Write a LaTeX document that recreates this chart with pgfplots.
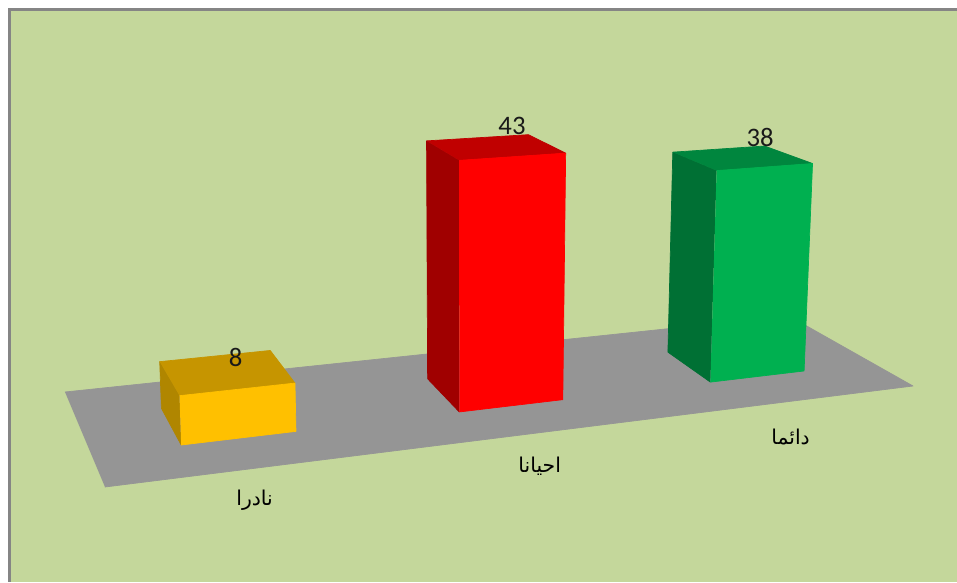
\documentclass[border=0pt]{standalone}
\usepackage{pgfplots}
\pgfplotsset{compat=1.18}
\usepackage{fontspec}
\setmainfont{Liberation Sans}
\newfontfamily\arabicfont[Script=Arabic]{DejaVu Sans}
\newfontfamily\valfont{Carlito}
\TeXXeTstate=1
\definecolor{bg}{HTML}{C4D79B}
\definecolor{frame}{HTML}{858585}
\definecolor{floorc}{HTML}{959595}
\definecolor{yfront}{HTML}{FFC000}
\definecolor{ytop}{HTML}{C69500}
\definecolor{yside}{HTML}{B08600}
\definecolor{rfront}{HTML}{FF0000}
\definecolor{rtop}{HTML}{C00000}
\definecolor{rside}{HTML}{A00000}
\definecolor{gfront}{HTML}{00B050}
\definecolor{gtop}{HTML}{00863E}
\definecolor{gside}{HTML}{007034}
\pgfplotsset{
  table/proj/.style={
    x expr={prX(\thisrow{u},\thisrow{v},\thisrow{w})},
    y expr={prY(\thisrow{u},\thisrow{v},\thisrow{w})},
    row sep=\\},
  face/.style={fill=#1, draw=#1, line width=0.2pt, line join=round, mark=none},
}
\begin{document}
\begin{tikzpicture}
\fill[white] (0,0) rectangle (9.57,5.82);
\fill[frame] (0.08,0) rectangle (9.57,5.74);
\fill[bg] (0.11,0) rectangle (9.57,5.71);
\begin{axis}[at={(0,0)}, anchor=south west,
  width=9.57cm, height=5.82cm, scale only axis,
  xmin=0, xmax=957, ymin=0, ymax=582, y dir=reverse,
  hide axis, clip=false,
  declare function={
    prT(\x)=1.1645*(\x/3)/(1+0.1645*\x/3);
    prP(\y)=1.15*\y/(1+0.15*\y);
    prBx(\x,\y)=105*(1-prT(\x))*(1-prP(\y))+913*prT(\x)*(1-prP(\y))+65*(1-prT(\x))*prP(\y)+789*prT(\x)*prP(\y);
    prBy(\x,\y)=487*(1-prT(\x))*(1-prP(\y))+386*prT(\x)*(1-prP(\y))+392*(1-prT(\x))*prP(\y)+316*prT(\x)*prP(\y);
    prH(\x,\y,\z)=\z*6.55/((1+0.1645*\x/3)*(1+0.15*\y));
    prX(\x,\y,\z)=prBx(\x,\y)+(prBx(\x,\y)-465)*0.00012*prH(\x,\y,\z);
    prY(\x,\y,\z)=prBy(\x,\y)-prH(\x,\y,\z);
  }]
% floor
\addplot[face=floorc] table[proj]{u v w\\ 0 0 0\\ 3 0 0\\ 3 1 0\\ 0 1 0\\};
% bar 1: 8
\addplot[face=yside] table[proj]{u v w\\ 0.3 0.3 0\\ 0.3 0.7 0\\ 0.3 0.7 8\\ 0.3 0.3 8\\};
\addplot[face=ytop] table[proj]{u v w\\ 0.3 0.3 8\\ 0.7 0.3 8\\ 0.7 0.7 8\\ 0.3 0.7 8\\};
\addplot[face=yfront] table[proj]{u v w\\ 0.3 0.3 0\\ 0.7 0.3 0\\ 0.7 0.3 8\\ 0.3 0.3 8\\};
% bar 2: 43
\addplot[face=rside] table[proj]{u v w\\ 1.3 0.3 0\\ 1.3 0.7 0\\ 1.3 0.7 43\\ 1.3 0.3 43\\};
\addplot[face=rtop] table[proj]{u v w\\ 1.3 0.3 43\\ 1.7 0.3 43\\ 1.7 0.7 43\\ 1.3 0.7 43\\};
\addplot[face=rfront] table[proj]{u v w\\ 1.3 0.3 0\\ 1.7 0.3 0\\ 1.7 0.3 43\\ 1.3 0.3 43\\};
% bar 3: 38
\addplot[face=gside] table[proj]{u v w\\ 2.3 0.3 0\\ 2.3 0.7 0\\ 2.3 0.7 38\\ 2.3 0.3 38\\};
\addplot[face=gtop] table[proj]{u v w\\ 2.3 0.3 38\\ 2.7 0.3 38\\ 2.7 0.7 38\\ 2.3 0.7 38\\};
\addplot[face=gfront] table[proj]{u v w\\ 2.3 0.3 0\\ 2.7 0.3 0\\ 2.7 0.3 38\\ 2.3 0.3 38\\};
% value labels
\addplot[draw=none, mark=none, point meta=explicit symbolic,
  visualization depends on={value \thisrow{dx}\as\dx},
  visualization depends on={value \thisrow{dy}\as\dy},
  nodes near coords={\pgfplotspointmeta},
  every node near coord/.append style={anchor=center, inner sep=0pt,
    xshift=\dx mm, yshift=\dy mm, font=\valfont\fontsize{7.6}{9}\selectfont, text=black!90}]
  table[proj, meta=lab]{u v w dx dy lab\\ 0.5 0.7 8 2.0 -0.1 8\\ 1.5 0.7 43 3.4 1.2 43\\ 2.5 0.7 38 4.1 1.2 38\\};
% category labels
\addplot[draw=none, mark=none, point meta=explicit symbolic,
  visualization depends on={value \thisrow{dx}\as\dx},
  visualization depends on={value \thisrow{dy}\as\dy},
  nodes near coords={\arabicfont\beginR\pgfplotspointmeta\endR},
  every node near coord/.append style={anchor=center, inner sep=0pt,
    xshift=\dx mm, yshift=\dy mm, font=\fontsize{5.8}{7}\selectfont, text=black}]
  table[proj, meta=lab]{u v w dx dy lab\\ 0.5 0 0 -0.3 -3.2 نادرا\\ 1.5 0 0 0 -3.4 احيانا\\ 2.5 0 0 -0.4 -3.6 دائما\\};
\end{axis}
\pgfresetboundingbox
\useasboundingbox (0,0) rectangle (9.57,5.82);
\end{tikzpicture}
\end{document}
